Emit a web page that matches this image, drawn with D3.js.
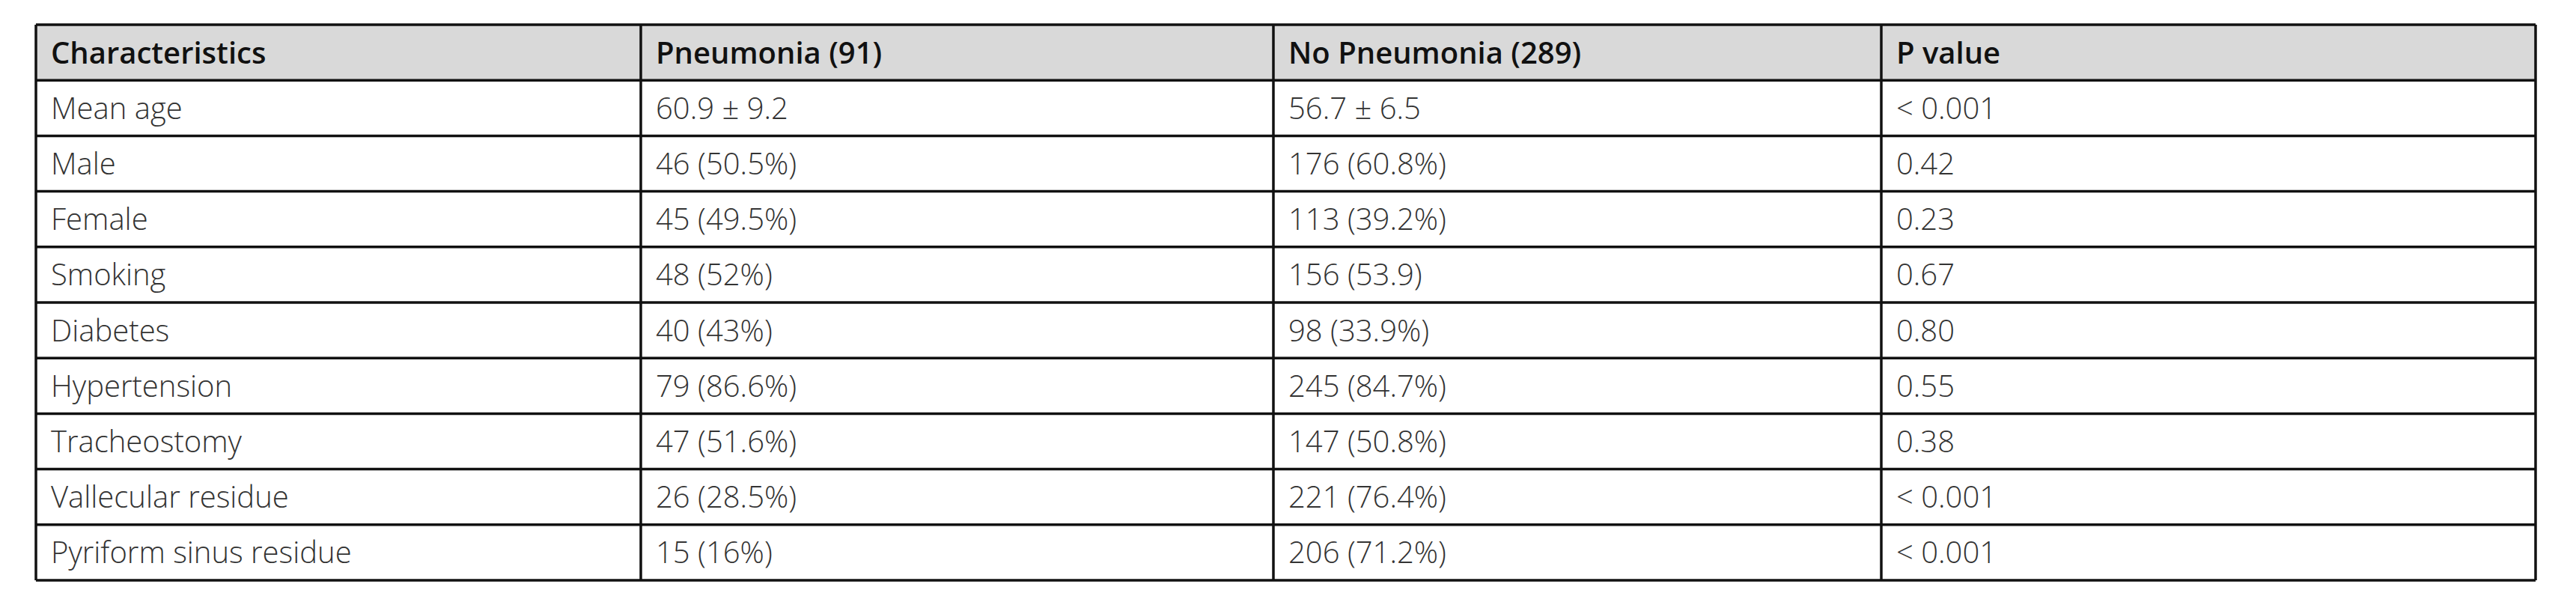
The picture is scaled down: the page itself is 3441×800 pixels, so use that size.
<!DOCTYPE html><html><head><meta charset="utf-8"><script src="https://cdn.jsdelivr.net/npm/d3@7"></script>
<style>body{margin:0;background:#fff}</style></head><body><svg id="c" width="3441" height="800"></svg><script>
const headers=["Characteristics","Pneumonia (91)","No Pneumonia (289)","P value"];
const characteristics=["Mean age","Male","Female","Smoking","Diabetes","Hypertension","Tracheostomy","Vallecular residue","Pyriform sinus residue"];
const pneumonia=["60.9 ± 9.2","46 (50.5%)","45 (49.5%)","48 (52%)","40 (43%)","79 (86.6%)","47 (51.6%)","26 (28.5%)","15 (16%)"];
const noPneumonia=["56.7 ± 6.5","176 (60.8%)","113 (39.2%)","156 (53.9)","98 (33.9%)","245 (84.7%)","147 (50.8%)","221 (76.4%)","206 (71.2%)"];
const pValues=["< 0.001","0.42","0.23","0.67","0.80","0.55","0.38","< 0.001","< 0.001"];
const rows=characteristics.map((c,i)=>[c,pneumonia[i],noPneumonia[i],pValues[i]]);
const svg=d3.select("#c");
const colEdges=[48,856,1701,2513,3387];
const y0=33,y1=775;
const y=d3.scaleBand().domain(d3.range(10)).range([y0,y1]);
const h=y.bandwidth();
svg.append("rect").attr("x",colEdges[0]).attr("y",y0).attr("width",colEdges[4]-colEdges[0]).attr("height",h).attr("fill","#d9d9d9");
const all=[headers,...rows];
all.forEach((r,i)=>{r.forEach((t,j)=>{
 svg.append("text").attr("x",colEdges[j]+20).attr("y",y(i)+h/2).attr("dy","0.36em")
 .attr("font-family","'Open Sans',sans-serif").attr("font-size",40)
 .attr("font-weight",i==0?"600":"300").attr("fill",i==0?"#111":"#333").text(t);});});
for(let i=0;i<=10;i++){const yy=i==10?y1:y(i);svg.append("line").attr("x1",colEdges[0]).attr("x2",colEdges[4]).attr("y1",yy).attr("y2",yy).attr("stroke","#111").attr("stroke-width",3.5);}
colEdges.forEach(x=>svg.append("line").attr("x1",x).attr("x2",x).attr("y1",y0).attr("y2",y1).attr("stroke","#111").attr("stroke-width",3.5));
</script></body></html>
